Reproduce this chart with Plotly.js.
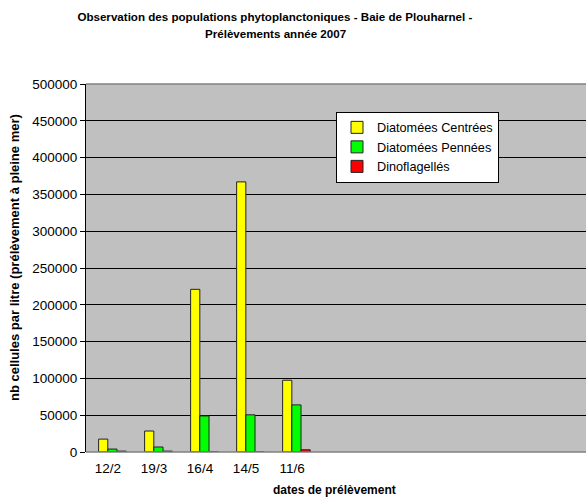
<!DOCTYPE html>
<html>
<head>
<meta charset="utf-8">
<script src="https://cdn.plot.ly/plotly-3.0.1.min.js"></script>
<style>html,body{margin:0;padding:0;background:#fff;}#chart{width:586px;height:499px;}</style>
</head>
<body>
<div id="chart"></div>
<script>
// Data
const dates = ["12/2", "19/3", "16/4", "14/5", "11/6"];
const seriesNames = ["Diatomées Centrées", "Diatomées Pennées", "Dinoflagellés"];
const diatomeesCentrees = [17500, 28500, 221000, 367000, 97500];
const diatomeesPennees = [4000, 6800, 49000, 50500, 64000];
const dinoflagelles = [1200, 1200, 0, 0, 3000];
const seriesColors = ["#FFFF00", "#00FF00", "#FF0000"];
const yTickVals = [0, 50000, 100000, 150000, 200000, 250000, 300000, 350000, 400000, 450000, 500000];
const titleLine1 = "Observation des populations phytoplanctoniques - Baie de Plouharnel -";
const titleLine2 = "Prélèvements année 2007";

const FONT = "Liberation Sans, Arial, sans-serif";
const seriesValues = [diatomeesCentrees, diatomeesPennees, dinoflagelles];
const barWidth = 0.2;
const offsets = [-0.204, -0.004, 0.196];

const traces = seriesValues.map((vals, i) => ({
  type: "bar",
  name: seriesNames[i],
  x: dates,
  y: vals,
  width: barWidth,
  offset: offsets[i],
  marker: {color: seriesColors[i], line: {color: "#222", width: 1}},
  hoverinfo: "skip"
}));

const titleFont = {family: FONT, size: 11.6, weight: "bold", color: "#000"};

const layout = {
  width: 586,
  height: 499,
  margin: {l: 86, r: 0, t: 84, b: 47, pad: 0},
  paper_bgcolor: "#FFFFFF",
  plot_bgcolor: "#C0C0C0",
  barmode: "overlay",
  showlegend: true,
  font: {family: FONT, color: "#000"},
  title: {
    text: titleLine1,
    font: titleFont,
    xref: "container", yref: "container",
    x: 0.469, xanchor: "center",
    y: 1 - 16.5 / 499, yanchor: "middle"
  },
  xaxis: {
    type: "category",
    categoryorder: "array",
    categoryarray: dates,
    range: [-0.478, 10.39],
    showgrid: false,
    zeroline: false,
    showline: false,
    ticks: "outside",
    ticklen: 4,
    tickcolor: "rgba(0,0,0,0)",
    tickfont: {family: FONT, size: 13.5, color: "#000"},
    fixedrange: true
  },
  yaxis: {
    range: [0, 500000],
    tickvals: yTickVals,
    ticktext: yTickVals.map(String),
    showgrid: true,
    gridcolor: "#000000",
    gridwidth: 1,
    zeroline: false,
    showline: true,
    linecolor: "#000000",
    linewidth: 1,
    ticks: "outside",
    ticklen: 5,
    tickcolor: "#000000",
    tickfont: {family: FONT, size: 13.5, color: "#000"},
    fixedrange: true
  },
  legend: {
    x: 0.5, xanchor: "left",
    y: 0.925, yanchor: "top",
    bgcolor: "#FFFFFF",
    bordercolor: "#000000",
    borderwidth: 1,
    itemwidth: 30,
    font: {family: FONT, size: 12.7, color: "#000"},
    tracegroupgap: 0
  },
  shapes: [
    {type: "line", xref: "paper", yref: "paper", x0: 0, x1: 1, y0: 1, y1: 1, line: {color: "#808080", width: 1.5}},
    {type: "line", xref: "paper", yref: "paper", x0: 0, x1: 1, y0: 0, y1: 0, line: {color: "#808080", width: 1.5}}
  ],
  annotations: [
    {
      text: titleLine2,
      xref: "paper", yref: "paper",
      x: (275 - 86) / 500, y: (452 - 34) / 368,
      xanchor: "center", yanchor: "middle",
      showarrow: false,
      font: titleFont
    },
    {
      text: "nb cellules par litre (prélèvement à pleine mer)",
      xref: "paper", yref: "paper",
      x: -0.144, y: (452 - 258) / 368,
      xanchor: "center", yanchor: "middle",
      textangle: -90, showarrow: false,
      font: {family: FONT, size: 13, weight: "bold", color: "#000"}
    },
    {
      text: "dates de prélèvement",
      xref: "paper", yref: "paper",
      x: 0.496, y: (452 - 490) / 368,
      xanchor: "center", yanchor: "middle",
      showarrow: false,
      font: {family: FONT, size: 12, weight: "bold", color: "#000"}
    }
  ]
};

Plotly.newPlot("chart", traces, layout, {staticPlot: true, displayModeBar: false});
</script>
</body>
</html>
